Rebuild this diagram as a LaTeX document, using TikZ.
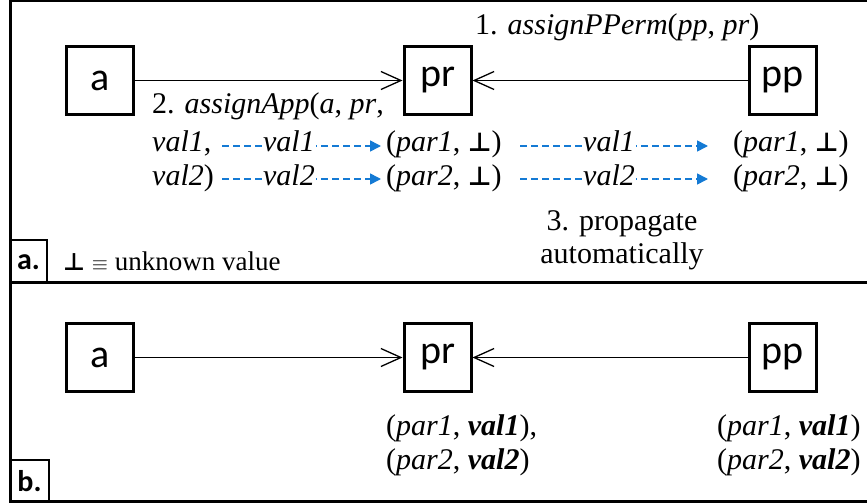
\documentclass[tikz,border=0pt]{standalone}
\usepackage{fontspec}
\setmainfont{Liberation Serif}
\newfontfamily\boxfont{Carlito}
\newfontfamily\symfont{DejaVu Sans}
\usetikzlibrary{arrows.meta}
\definecolor{propblue}{RGB}{20,122,212}
\newcommand{\unk}{{\symfont\bfseries\fontsize{26}{30}\selectfont ⊥}}
\begin{document}
\begin{tikzpicture}[x=1pt,y=-1pt,
  ent/.style={draw,line width=3pt,minimum width=67pt,minimum height=68pt,inner sep=0pt,font=\boxfont\fontsize{40}{40}\selectfont},
  txt/.style={font=\fontsize{30}{34}\selectfont,inner sep=0pt,anchor=base west},
  assoc/.style={line width=1.3pt,-{Straight Barb[length=20pt,width=18pt,line width=1.3pt]}},
  prop/.style={propblue,line width=1.6pt,dash pattern=on 7pt off 4pt,-{Triangle[length=11pt,width=11pt]}},
  proplbl/.style={fill=white,inner sep=1pt,text=black,font=\fontsize{30}{34}\selectfont\itshape},
  tag/.style={font=\boxfont\bfseries\fontsize{30}{30}\selectfont,inner sep=0pt},
  frame/.style={line width=3pt}
]
\useasboundingbox (0,0) rectangle (867,503);
\clip (0,0) rectangle (867,503);
% frame
\draw[frame] (10,1) rectangle (880,501);
\draw[frame] (10,282) -- (880,282);
\draw[line width=2.5pt] (10,240) -| (47,282);
\draw[line width=2.5pt] (10,460) -| (49,501);
\node[tag] (taga) at (28.5,262) {a.};
\node[tag] (tagb) at (29.5,481) {b.};

% ---- part a
\node[ent] (a)  at (100,80.5) {a};
\node[ent] (pr) at (437.5,80.5) {pr};
\node[ent] (pp) at (783,80.5) {pp};
\draw[assoc] (a) -- (pr);
\draw[assoc] (pp) -- (pr);
\node[txt] (l1) at (475,35) {1. \textit{assignPPerm}(\textit{pp}, \textit{pr})};
\node[txt] (l2) at (152,113) {2. \textit{assignApp}(\textit{a}, \textit{pr},};
\node[txt] (v1) at (152,151) {\textit{val1},};
\node[txt] (v2) at (152,185) {\textit{val2})};
\node[txt] (p1) at (386,151) {(\textit{par1}, \unk)};
\node[txt] (p2) at (386,185) {(\textit{par2}, \unk)};
\node[txt] (q1) at (733,151) {(\textit{par1}, \unk)};
\node[txt] (q2) at (733,185) {(\textit{par2}, \unk)};
\coordinate (s1) at (222,146);
\coordinate (e1) at (381,146);
\coordinate (s2) at (222,179);
\coordinate (e2) at (381,179);
\coordinate (s3) at (520,146);
\coordinate (e3) at (708,146);
\coordinate (s4) at (520,179);
\coordinate (e4) at (708,179);
\draw[prop] (s1) -- (e1);
\draw[prop] (s2) -- (e2);
\draw[prop] (s3) -- (e3);
\draw[prop] (s4) -- (e4);
\node[proplbl,anchor=base] (m1) at (289,151) {val1};
\node[proplbl,anchor=base] (m2) at (289,185) {val2};
\node[proplbl,anchor=base] (m3) at (609,151) {val1};
\node[proplbl,anchor=base] (m4) at (609,185) {val2};
\node[font=\fontsize{30}{33}\selectfont,align=center,anchor=base,inner sep=0pt] (l3) at (622,263) {3. propagate\\automatically};
\node[txt,font=\fontsize{27}{30}\selectfont] (leg) at (63,270) {{\symfont\bfseries\fontsize{24}{28}\selectfont ⊥} {\fontsize{20}{24}\selectfont$\equiv$} unknown value};

% ---- part b
\node[ent] (ba)  at (100,357.5) {a};
\node[ent] (bpr) at (437.5,357.5) {pr};
\node[ent] (bpp) at (783,357.5) {pp};
\draw[assoc] (ba) -- (bpr);
\draw[assoc] (bpp) -- (bpr);
\node[txt] (r1) at (386,435) {(\textit{par1}, \textbf{\textit{val1}}),};
\node[txt] (r2) at (386,469) {(\textit{par2}, \textbf{\textit{val2}})};
\node[txt] (t1) at (717,435) {(\textit{par1}, \textbf{\textit{val1}})};
\node[txt] (t2) at (717,469) {(\textit{par2}, \textbf{\textit{val2}})};
\end{tikzpicture}
\end{document}
